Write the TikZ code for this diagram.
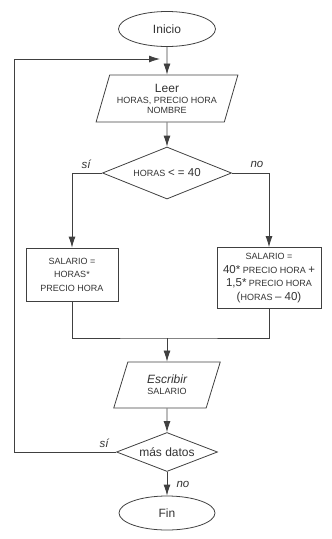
\documentclass[tikz,border=0pt]{standalone}
\usepackage{fontspec}
\setmainfont{Liberation Sans}
\usetikzlibrary{shapes.geometric,arrows.meta}

\newcommand{\chico}{\fontsize{9}{13.5}\selectfont}
\newcommand{\grande}{\fontsize{11.5}{13.5}\selectfont}

\tikzset{
  linea/.style={draw=black!75, line width=0.8pt},
  flecha/.style={linea, -{Latex[length=11pt,width=7pt]}},
  terminal/.style={linea, ellipse, inner sep=0pt, text=black!80, font=\fontsize{12}{14}\selectfont},
  entrada/.style={linea, trapezium, trapezium stretches=true, align=center, text=black!80, inner sep=0pt},
  decision/.style={linea, diamond, aspect=2.5, inner sep=0pt, text=black!80},
  proceso/.style={linea, rectangle, align=center, text=black!80, inner sep=0pt, font=\chico},
  rama/.style={font=\itshape\fontsize{11.5}{13}\selectfont, text=black!80}
}

\begin{document}
\begin{tikzpicture}[x=1pt, y=-1pt]
  \useasboundingbox (0,0) rectangle (332,539);
  \def\cx{167}

  \node[terminal, minimum width=97, minimum height=35] (inicio) at (\cx,29) {Inicio};
  \node[entrada, trapezium left angle=68, trapezium right angle=112,
        minimum width=142, minimum height=47] (leer) at (\cx,98.5)
        {{\fontsize{12}{14}\selectfont Leer}\\[-1pt] {\chico HORAS, PRECIO HORA}\\[-2pt] {\chico NOMBRE}};
  \node[decision, minimum width=129, minimum height=52] (horas) at (\cx,173)
        {{\chico HORAS} {\grande < = 40}};
  \node[proceso, minimum width=92, minimum height=53] (sal1) at (72,274.5)
        {SALARIO =\\ HORAS*\\ PRECIO HORA};
  \node[proceso, minimum width=104, minimum height=61] (sal2) at (269,278)
        {SALARIO =\\ {\grande 40*} PRECIO HORA {\grande +}\\ {\grande 1,5*} PRECIO HORA\\ {\grande (}HORAS {\grande – 40)}};
  \node[entrada, trapezium left angle=70, trapezium right angle=110,
        minimum width=107, minimum height=46] (escribir) at (\cx,385)
        {{\itshape\fontsize{12}{14}\selectfont Escribir}\\[-1pt] {\chico SALARIO}};
  \node[decision, minimum width=101, minimum height=39, font=\fontsize{12}{14}\selectfont] (masdatos) at (\cx,452)
        {más datos};
  \node[terminal, minimum width=96, minimum height=34] (fin) at (\cx,513) {Fin};

  \coordinate (lft) at (14,59);
  \coordinate (entry) at (160,59);
  \coordinate (junta) at (\cx,338);

  \draw[flecha] (inicio) -- (leer);
  \draw[flecha] (leer) -- (horas);
  \draw[flecha] (horas.west) -| (sal1.north);
  \draw[flecha] (horas.east) -| (sal2.north);
  \draw[linea] (sal1.south) |- (junta) -| (sal2.south);
  \draw[flecha] (junta) -- (escribir);
  \draw[flecha] (escribir) -- (masdatos);
  \draw[flecha] (masdatos) -- (fin);
  \draw[flecha] (masdatos.west) -| (lft) -- (entry);

  \node[rama] (si1) at (86,164) {sí};
  \node[rama] (no1) at (257,164) {no};
  \node[rama] (si2) at (104,443) {sí};
  \node[rama] (no2) at (183,484) {no};
\end{tikzpicture}
\end{document}
